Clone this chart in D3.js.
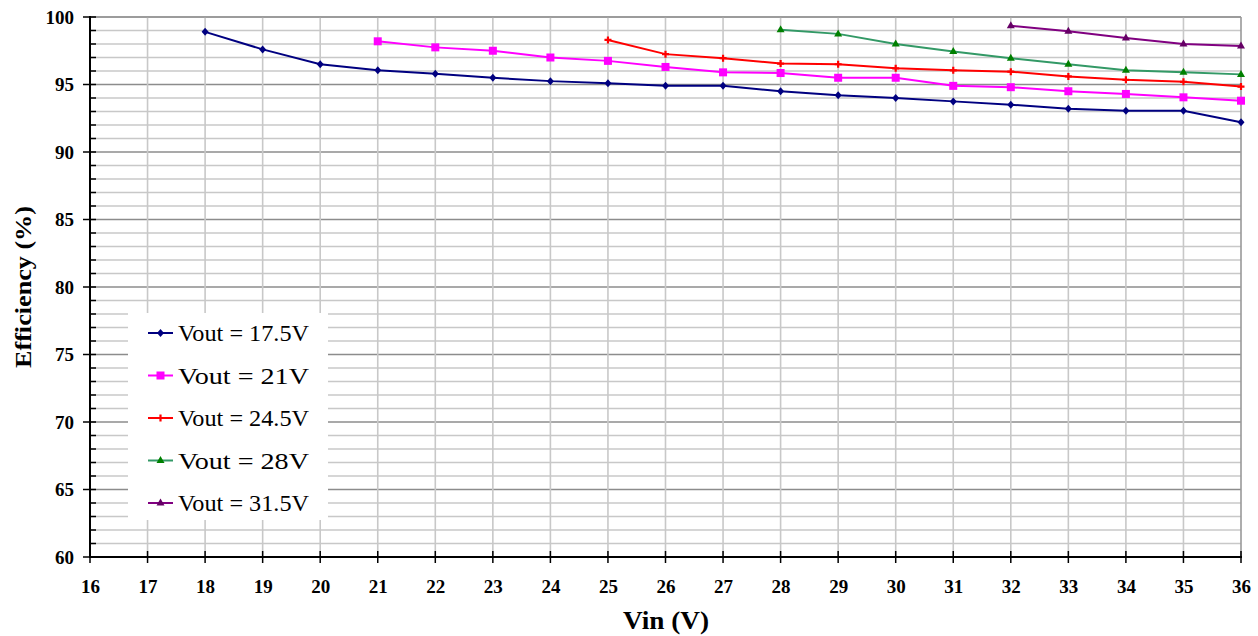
<!DOCTYPE html>
<html><head><meta charset="utf-8">
<script src="https://cdn.jsdelivr.net/npm/d3@7"></script>
<style>body{margin:0;background:#fff}svg{display:block}</style>
</head><body><svg id="c" width="1258" height="636"></svg>
<script>
const vin = [16,17,18,19,20,21,22,23,24,25,26,27,28,29,30,31,32,33,34,35,36];
const xTicks = [16,17,18,19,20,21,22,23,24,25,26,27,28,29,30,31,32,33,34,35,36];
const yTicks = [60,65,70,75,80,85,90,95,100];
const seriesNames = ["Vout = 17.5V","Vout = 21V","Vout = 24.5V","Vout = 28V","Vout = 31.5V"];
const vin175 = [18,19,20,21,22,23,24,25,26,27,28,29,30,31,32,33,34,35,36];
const eff175 = [98.9,97.6,96.5,96.05,95.8,95.5,95.25,95.1,94.9,94.9,94.5,94.2,94.0,93.75,93.5,93.2,93.05,93.05,92.2];
const vin21 = [21,22,23,24,25,26,27,28,29,30,31,32,33,34,35,36];
const eff21 = [98.2,97.75,97.5,97.0,96.75,96.3,95.9,95.85,95.5,95.5,94.9,94.8,94.5,94.3,94.05,93.8];
const vin245 = [25,26,27,28,29,30,31,32,33,34,35,36];
const eff245 = [98.3,97.25,96.95,96.55,96.5,96.2,96.05,95.95,95.6,95.35,95.2,94.85];
const vin28 = [28,29,30,31,32,33,34,35,36];
const eff28 = [99.05,98.75,98.0,97.45,96.95,96.5,96.05,95.9,95.75];
const vin315 = [32,33,34,35,36];
const eff315 = [99.35,98.95,98.45,98.0,97.85];
const lineColors = ["#000080","#ff00ff","#ff0000","#339966","#800080"];
const markColors = ["#000080","#ff00ff","#ff0000","#008000","#660066"];
const markShapes = ["diamond","square","plus","triangle","triangle"];

const series = [
  {x:vin175,y:eff175},{x:vin21,y:eff21},{x:vin245,y:eff245},{x:vin28,y:eff28},{x:vin315,y:eff315}
].map((s,i)=>({name:seriesNames[i],pts:s.x.map((v,j)=>[v,s.y[j]]),line:lineColors[i],mark:markColors[i],shape:markShapes[i]}));

const L=90,R=1241,T=17,B=557;
const x=d3.scaleLinear().domain([16,36]).range([L,R]);
const y=d3.scaleLinear().domain([60,100]).range([B,T]);
const svg=d3.select("#c");
const serif="'Liberation Serif','Times New Roman',serif";

// grid
const minorY=d3.range(60,101,1);
svg.append("g").selectAll("line").data(minorY).join("line")
  .attr("x1",L).attr("x2",R).attr("y1",d=>y(d)).attr("y2",d=>y(d))
  .attr("stroke",d=>d%5===0?"#8c8c8c":"#c8c8c8").attr("stroke-width",1.6);
svg.append("g").selectAll("line").data(xTicks.slice(1)).join("line")
  .attr("y1",T).attr("y2",B).attr("x1",d=>x(d)).attr("x2",d=>x(d))
  .attr("stroke",d=>d===36?"#999":"#c8c8c8").attr("stroke-width",1.6);
svg.append("line").attr("x1",L).attr("x2",R).attr("y1",T).attr("y2",T).attr("stroke","#999").attr("stroke-width",1.6);

// legend background
const lg=svg.append("g");
lg.append("rect").attr("x",128).attr("y",313).attr("width",200).attr("height",207).attr("fill","#fff");

// axes
const yAxis=d3.axisLeft(y).tickValues(yTicks).tickSize(0).tickPadding(16);
const ya=svg.append("g").attr("transform",`translate(${L},0)`).call(yAxis);
ya.select(".domain").remove();
ya.selectAll("text").attr("font-family",serif).attr("font-weight","bold").attr("font-size",19).attr("fill","#000");
svg.append("g").selectAll("line").data(minorY).join("line")
  .attr("x1",d=>d%5===0?L-7:L).attr("x2",L+6).attr("y1",d=>y(d)).attr("y2",d=>y(d))
  .attr("stroke","#000").attr("stroke-width",1.5);
svg.append("line").attr("x1",L).attr("x2",L).attr("y1",T-1).attr("y2",B+1).attr("stroke","#000").attr("stroke-width",2);

const xAxis=d3.axisBottom(x).tickValues(xTicks).tickSize(0).tickPadding(23).tickFormat(d3.format("d"));
const xa=svg.append("g").attr("transform",`translate(0,${B})`).call(xAxis);
xa.select(".domain").remove();
xa.selectAll("text").attr("font-family",serif).attr("font-weight","bold").attr("font-size",19).attr("fill","#000");
svg.append("g").selectAll("line").data(xTicks).join("line")
  .attr("x1",d=>x(d)).attr("x2",d=>x(d)).attr("y1",B-6).attr("y2",B+6)
  .attr("stroke","#000").attr("stroke-width",1.5);
svg.append("line").attr("x1",L).attr("x2",R+1).attr("y1",B).attr("y2",B).attr("stroke","#000").attr("stroke-width",2);

// titles
svg.append("text").attr("x",666).attr("y",629).attr("text-anchor","middle")
  .attr("font-family",serif).attr("font-weight","bold").attr("font-size",25)
  .attr("textLength",86).attr("lengthAdjust","spacingAndGlyphs").text("Vin (V)");
svg.append("text").attr("transform","translate(31,287) rotate(-90)").attr("text-anchor","middle")
  .attr("font-family",serif).attr("font-weight","bold").attr("font-size",24)
  .attr("textLength",162).attr("lengthAdjust","spacingAndGlyphs").text("Efficiency (%)");

// markers
function marker(g,shape,color,cx,cy){
  if(shape==="diamond"){
    g.append("path").attr("d",`M${cx},${cy-4}L${cx+3.5},${cy}L${cx},${cy+4}L${cx-3.5},${cy}Z`).attr("fill",color);
  } else if(shape==="square"){
    g.append("rect").attr("x",cx-4).attr("y",cy-4).attr("width",8).attr("height",8).attr("fill",color);
  } else if(shape==="plus"){
    g.append("path").attr("d",`M${cx-3.5},${cy}H${cx+3.5}M${cx},${cy-3.5}V${cy+3.5}`).attr("stroke",color).attr("stroke-width",2.2);
  } else {
    g.append("path").attr("d",`M${cx},${cy-4.5}L${cx+4},${cy+2.5}L${cx-4},${cy+2.5}Z`).attr("fill",color);
  }
}
const line=d3.line().x(d=>x(d[0])).y(d=>y(d[1]));
series.forEach(s=>{
  const g=svg.append("g");
  g.append("path").datum(s.pts).attr("d",line).attr("fill","none").attr("stroke",s.line).attr("stroke-width",2);
  s.pts.forEach(p=>marker(g,s.shape,s.mark,x(p[0]),y(p[1])));
});

// legend
series.forEach((s,i)=>{
  const cy=333+i*42.5;
  lg.append("line").attr("x1",148).attr("x2",173).attr("y1",cy).attr("y2",cy).attr("stroke",s.line).attr("stroke-width",2);
  marker(lg,s.shape,s.mark,160.5,cy);
  lg.append("text").attr("x",178).attr("y",cy+8).attr("font-family",serif).attr("font-size",23)
    .attr("textLength",131).attr("lengthAdjust","spacingAndGlyphs").text(s.name);
});
</script></body></html>
